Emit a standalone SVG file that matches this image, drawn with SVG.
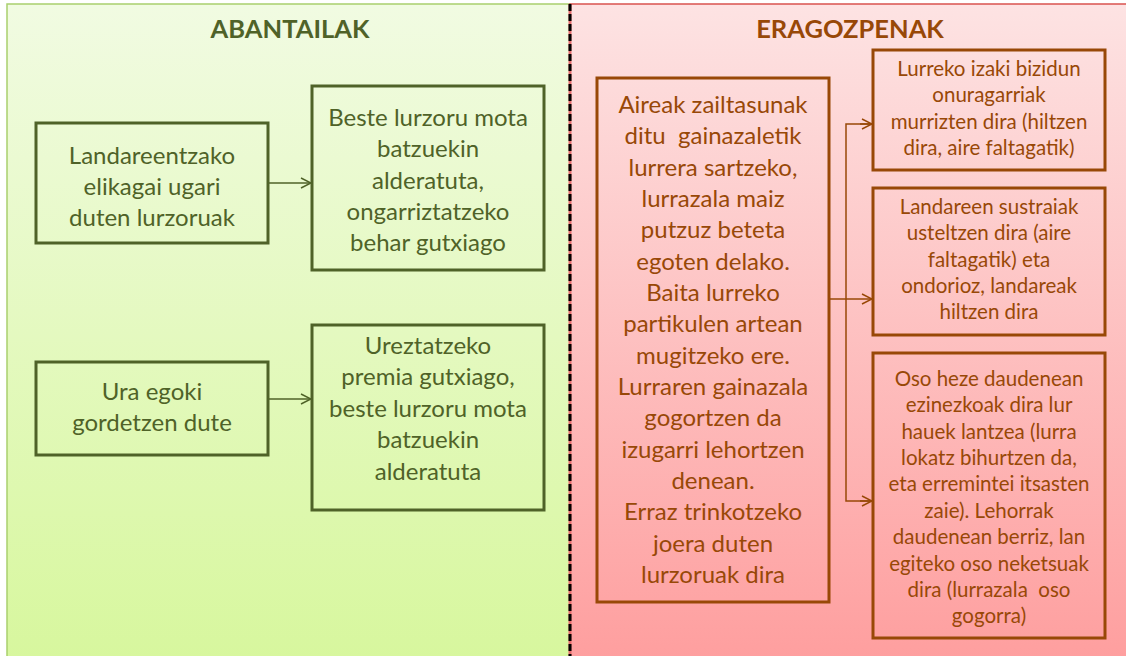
<svg xmlns="http://www.w3.org/2000/svg" width="1126" height="656" viewBox="0 0 1126 656">
<defs>
<linearGradient id="gGreen" x1="0" y1="0" x2="0" y2="1">
<stop offset="0" stop-color="#f1fbe2"/>
<stop offset="1" stop-color="#d7f79d"/>
</linearGradient>
<linearGradient id="gPink" x1="0" y1="0" x2="0" y2="1">
<stop offset="0" stop-color="#fde3e3"/>
<stop offset="1" stop-color="#fe9e9e"/>
</linearGradient>
<marker id="aG" viewBox="0 0 12 12" refX="11" refY="6" markerWidth="12" markerHeight="12" markerUnits="userSpaceOnUse" orient="auto">
<path d="M1,1 L11,6 L1,11" fill="none" stroke="#4f6228" stroke-width="1.5"/>
</marker>
<marker id="aB" viewBox="0 0 12 12" refX="11" refY="6" markerWidth="12" markerHeight="12" markerUnits="userSpaceOnUse" orient="auto">
<path d="M1,1 L11,6 L1,11" fill="none" stroke="#984807" stroke-width="1.5"/>
</marker>
</defs>
<style>
.t{font-family:Lato,"Liberation Sans",sans-serif;text-anchor:middle}
.g{fill:#4f6228}
.b{fill:#984807}
.big{font-size:24px}
.sm{font-size:20.5px}
.title{font-size:25.5px;font-weight:bold}
.bg{fill:none;stroke:#4f6228;stroke-width:3}
.bb{fill:none;stroke:#984807;stroke-width:3}
.cg{fill:none;stroke:#4f6228;stroke-width:1.5}
.cb{fill:none;stroke:#984807;stroke-width:1.5}
</style>
<g id="panels">
<rect x="7" y="4" width="563" height="662" fill="url(#gGreen)" stroke="#a9cf6e" stroke-width="1.5"/>
<rect x="570" y="4" width="570" height="662" fill="url(#gPink)" stroke="#d9534f" stroke-width="1.5"/>
<line x1="570" y1="4" x2="570" y2="656" stroke="#e46c6c" stroke-width="3"/>
<line x1="570" y1="4" x2="570" y2="656" stroke="#000" stroke-width="3" stroke-dasharray="7 3"/>
</g>
<g id="title-left"><text class="t g title" x="290" y="38">ABANTAILAK</text></g>
<g id="title-right"><text class="t b title" x="850" y="38">ERAGOZPENAK</text></g>

<g id="connectors">
<line class="cg" x1="268" y1="183" x2="311" y2="183" marker-end="url(#aG)"/>
<line class="cg" x1="268" y1="399" x2="311" y2="399" marker-end="url(#aG)"/>
<line class="cb" x1="829" y1="299" x2="872" y2="299" marker-end="url(#aB)"/>
<polyline class="cb" points="872,124 846,124 846,501 872,501"/>
<line class="cb" x1="860" y1="124" x2="872" y2="124" marker-end="url(#aB)"/>
<line class="cb" x1="860" y1="501" x2="872" y2="501" marker-end="url(#aB)"/>
</g>

<g id="n1">
<rect class="bg" x="36" y="123" width="232" height="120"/>
<text class="t g big" x="152"><tspan x="152" y="164">Landareentzako</tspan><tspan x="152" y="195">elikagai ugari</tspan><tspan x="152" y="226">duten lurzoruak</tspan></text>
</g>
<g id="n2">
<rect class="bg" x="312" y="86" width="232" height="184"/>
<text class="t g big"><tspan x="428" y="126">Beste lurzoru mota</tspan><tspan x="428" y="157">batzuekin</tspan><tspan x="428" y="189">alderatuta,</tspan><tspan x="428" y="220">ongarriztatzeko</tspan><tspan x="428" y="251">behar gutxiago</tspan></text>
</g>
<g id="n3">
<rect class="bg" x="36" y="362" width="232" height="93"/>
<text class="t g big"><tspan x="152" y="400">Ura egoki</tspan><tspan x="152" y="431">gordetzen dute</tspan></text>
</g>
<g id="n4">
<rect class="bg" x="312" y="325" width="232" height="185"/>
<text class="t g big"><tspan x="428" y="354">Ureztatzeko</tspan><tspan x="428" y="385">premia gutxiago,</tspan><tspan x="428" y="417">beste lurzoru mota</tspan><tspan x="428" y="448">batzuekin</tspan><tspan x="428" y="480">alderatuta</tspan></text>
</g>
<g id="n5">
<rect class="bb" x="597" y="78" width="232" height="524"/>
<text class="t b big"><tspan x="713" y="113">Aireak zailtasunak</tspan><tspan x="713" y="144" xml:space="preserve">ditu  gainazaletik</tspan><tspan x="713" y="176">lurrera sartzeko,</tspan><tspan x="713" y="207">lurrazala maiz</tspan><tspan x="713" y="238">putzuz beteta</tspan><tspan x="713" y="270">egoten delako.</tspan><tspan x="713" y="301">Baita lurreko</tspan><tspan x="713" y="332">partikulen artean</tspan><tspan x="713" y="364">mugitzeko ere.</tspan><tspan x="713" y="395">Lurraren gainazala</tspan><tspan x="713" y="426">gogortzen da</tspan><tspan x="713" y="458">izugarri lehortzen</tspan><tspan x="713" y="489">denean.</tspan><tspan x="713" y="520">Erraz trinkotzeko</tspan><tspan x="713" y="552">joera duten</tspan><tspan x="713" y="583">lurzoruak dira</tspan></text>
</g>
<g id="n6">
<rect class="bb" x="873" y="50" width="232" height="120"/>
<text class="t b sm"><tspan x="989" y="76">Lurreko izaki bizidun</tspan><tspan x="989" y="102">onuragarriak</tspan><tspan x="989" y="129">murrizten dira (hiltzen</tspan><tspan x="989" y="155">dira, aire faltagatik)</tspan></text>
</g>
<g id="n7">
<rect class="bb" x="873" y="188" width="232" height="147"/>
<text class="t b sm"><tspan x="989" y="214">Landareen sustraiak</tspan><tspan x="989" y="240">usteltzen dira (aire</tspan><tspan x="989" y="267">faltagatik) eta</tspan><tspan x="989" y="293">ondorioz, landareak</tspan><tspan x="989" y="319">hiltzen dira</tspan></text>
</g>
<g id="n8">
<rect class="bb" x="873" y="353" width="232" height="285"/>
<text class="t b sm"><tspan x="989" y="386">Oso heze daudenean</tspan><tspan x="989" y="412">ezinezkoak dira lur</tspan><tspan x="989" y="439">hauek lantzea (lurra</tspan><tspan x="989" y="465">lokatz bihurtzen da,</tspan><tspan x="989" y="491">eta erremintei itsasten</tspan><tspan x="989" y="518">zaie). Lehorrak</tspan><tspan x="989" y="544">daudenean berriz, lan</tspan><tspan x="989" y="571">egiteko oso neketsuak</tspan><tspan x="989" y="597" xml:space="preserve">dira (lurrazala  oso</tspan><tspan x="989" y="623">gogorra)</tspan></text>
</g>
</svg>
